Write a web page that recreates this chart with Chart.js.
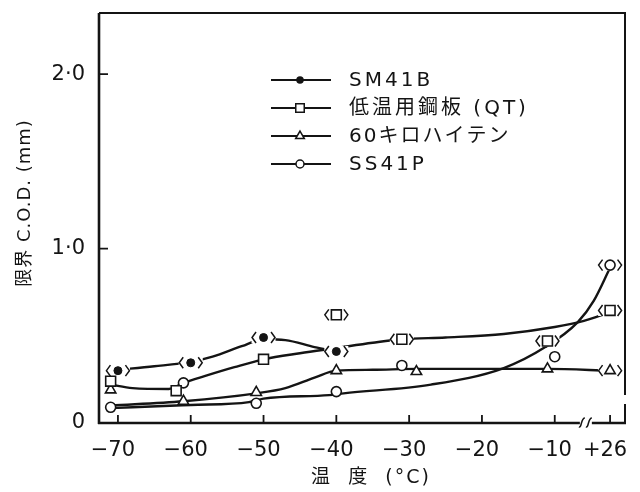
<!DOCTYPE html>
<html>
<head>
<meta charset="utf-8">
<script src="https://cdn.jsdelivr.net/npm/chart.js@4.4.1/dist/chart.umd.min.js"></script>
<style>
  html, body { margin: 0; padding: 0; background: #fff; }
  canvas { display: block; }
</style>
</head>
<body>
<canvas id="cod" width="640" height="492"></canvas>
<script>
// ---- axis definitions -------------------------------------------------
// The temperature axis is broken just right of -10 °C; +26 °C sits past the break.
const TICK_TEMPS  = [-70, -60, -50, -40, -30, -20, -10, 26];
const TICK_LABELS = ['−70', '−60', '−50', '−40', '−30', '−20', '−10', '+26'];
const Y_TICKS       = [0, 1, 2];
const Y_TICK_LABELS = ['0', '1·0', '2·0'];

const SERIES_NAMES = ['SM41B', '低温用鋼板 (QT)', '60キロハイテン', 'SS41P'];

// ---- measured critical COD (mm) ---------------------------------------
const SM41B_T       = [-70, -60, -50, -40];
const SM41B_COD     = [0.30, 0.345, 0.49, 0.41];
const SM41B_BRACKET = [true, true, true, true];

const QT_T       = [-71, -62, -50, -40, -31, -11, 26];
const QT_COD     = [0.24, 0.185, 0.365, 0.62, 0.48, 0.47, 0.645];
const QT_BRACKET = [false, false, false, true, true, true, true];

const HT60_T       = [-71, -61, -51, -40, -29, -11, 26];
const HT60_COD     = [0.19, 0.125, 0.175, 0.30, 0.295, 0.31, 0.30];
const HT60_BRACKET = [false, false, false, false, false, false, true];

const SS41P_T       = [-71, -61, -51, -40, -31, -10, 26];
const SS41P_COD     = [0.09, 0.23, 0.113, 0.18, 0.33, 0.38, 0.905];
const SS41P_BRACKET = [false, false, false, false, false, false, true];

// ---- faired trend curves ----------------------------------------------
const SM41B_CURVE_T   = [-70, -65, -60, -57, -53, -50, -47, -43, -40];
const SM41B_CURVE_COD = [0.305, 0.325, 0.35, 0.38, 0.44, 0.48, 0.475, 0.435, 0.41];

const QT_CURVE_T   = [-71, -68, -63, -61, -58, -54, -50, -45, -40, -35, -31, -25, -17, -10, -6, 26];
const QT_CURVE_COD = [0.22, 0.20, 0.195, 0.23, 0.27, 0.32, 0.365, 0.40, 0.43, 0.46, 0.48, 0.49, 0.51, 0.55, 0.585, 0.635];

const HT60_CURVE_T   = [-71, -61, -51, -47, -43, -40, -35, -29, -20, -11, 26];
const HT60_CURVE_COD = [0.10, 0.125, 0.17, 0.20, 0.26, 0.30, 0.305, 0.31, 0.31, 0.31, 0.30];

const SS41P_CURVE_T   = [-71, -62, -60, -52, -50, -41, -39, -27, -17, -11.3, -6.8, 6, 26];
const SS41P_CURVE_COD = [0.085, 0.10, 0.103, 0.12, 0.14, 0.16, 0.17, 0.22, 0.315, 0.435, 0.58, 0.70, 0.89];

// ---- broken-axis mapping ----------------------------------------------
const BREAK_T = -6;                 // real temperature where the axis breaks
const POST_BREAK_SCALE = 3.6 / 32;  // compression of the segment past the break
function axisX(t) {
  return t <= BREAK_T ? t : BREAK_T + (t - BREAK_T) * POST_BREAK_SCALE;
}
const pts = (ts, vs) => ts.map((t, i) => ({ x: axisX(t), y: vs[i] }));

const INK  = '#141414';
const FONT = '"DejaVu Sans", "Noto Sans CJK JP", sans-serif';

function curve(ts, vs) {
  return {
    type: 'line',
    data: pts(ts, vs),
    borderColor: INK,
    borderWidth: 2.4,
    pointRadius: 0,
    cubicInterpolationMode: 'monotone',
    fill: false,
    order: 2
  };
}
function markers(ts, vs, bracket, style, radius, filled) {
  return {
    type: 'scatter',
    data: pts(ts, vs),
    bracket: bracket,
    showLine: false,
    pointStyle: style,
    pointRadius: radius,
    pointHoverRadius: radius,
    pointBackgroundColor: filled ? INK : '#fff',
    pointBorderColor: INK,
    pointBorderWidth: filled ? 1 : 1.6,
    order: 1
  };
}

const MARKER_STYLES = [
  { style: 'circle',   radius: 4, filled: true },
  { style: 'rect',     radius: 7, filled: false },
  { style: 'triangle', radius: 6, filled: false },
  { style: 'circle',   radius: 5, filled: false }
];

const datasets = [
  curve(SM41B_CURVE_T, SM41B_CURVE_COD),
  curve(QT_CURVE_T, QT_CURVE_COD),
  curve(HT60_CURVE_T, HT60_CURVE_COD),
  curve(SS41P_CURVE_T, SS41P_CURVE_COD),
  markers(SM41B_T, SM41B_COD, SM41B_BRACKET, 'circle', 4, true),
  markers(QT_T, QT_COD, QT_BRACKET, 'rect', 7, false),
  markers(HT60_T, HT60_COD, HT60_BRACKET, 'triangle', 6, false),
  markers(SS41P_T, SS41P_COD, SS41P_BRACKET, 'circle', 5, false)
];

// ---- decorations: frame, inward ticks, axis break, brackets, legend, titles
const decor = {
  id: 'decor',
  beforeDraw(chart) { chart.$masked = false; },
  beforeDatasetDraw(chart, args) {
    const ds = chart.data.datasets[args.index];
    if (!ds.bracket || chart.$masked) return;
    chart.$masked = true;
    // clear the curves underneath bracketed markers
    const ctx = chart.ctx;
    ctx.save();
    ctx.fillStyle = '#fff';
    chart.data.datasets.forEach((d, i) => {
      if (!d.bracket) return;
      chart.getDatasetMeta(i).data.forEach((p, j) => {
        if (d.bracket[j]) ctx.fillRect(p.x - 12, p.y - 5.5, 24, 11);
      });
    });
    ctx.restore();
  },
  afterDatasetsDraw(chart) {
    const ctx = chart.ctx;
    const { left, right, top, bottom } = chart.chartArea;
    const xs = chart.scales.x, ys = chart.scales.y;
    ctx.save();
    ctx.strokeStyle = INK;
    ctx.fillStyle = INK;
    ctx.lineCap = 'butt';

    // angle brackets around flagged markers
    ctx.lineWidth = 1.5;
    chart.data.datasets.forEach((d, i) => {
      if (!d.bracket) return;
      chart.getDatasetMeta(i).data.forEach((p, j) => {
        if (!d.bracket[j]) return;
        ctx.beginPath();
        ctx.moveTo(p.x - 7.5, p.y - 5.5); ctx.lineTo(p.x - 11.5, p.y); ctx.lineTo(p.x - 7.5, p.y + 5.5);
        ctx.moveTo(p.x + 7.5, p.y - 5.5); ctx.lineTo(p.x + 11.5, p.y); ctx.lineTo(p.x + 7.5, p.y + 5.5);
        ctx.stroke();
      });
    });

    // frame
    const breakX = xs.getPixelForValue(axisX(BREAK_T)) - 4;
    ctx.lineWidth = 2.6;
    ctx.beginPath();
    ctx.moveTo(left, top); ctx.lineTo(left, bottom + 1);           // left axis
    ctx.moveTo(left - 1, bottom); ctx.lineTo(breakX, bottom);        // bottom, up to break
    ctx.moveTo(breakX + 12, bottom); ctx.lineTo(right + 1, bottom);  // bottom, past break
    ctx.stroke();
    ctx.lineWidth = 2;
    ctx.beginPath();
    ctx.moveTo(left, top); ctx.lineTo(right, top);
    ctx.moveTo(right, top - 1); ctx.lineTo(right, bottom - 28);
    ctx.moveTo(right, bottom - 19); ctx.lineTo(right, bottom + 1);
    ctx.stroke();

    // break symbol
    ctx.lineWidth = 1.5;
    [breakX + 2, breakX + 9].forEach(bx => {
      ctx.beginPath();
      ctx.moveTo(bx - 3, bottom + 4);
      ctx.bezierCurveTo(bx, bottom + 5, bx - 1, bottom - 5, bx + 3, bottom - 5);
      ctx.stroke();
    });

    // inward tick marks
    ctx.lineWidth = 1.8;
    ctx.beginPath();
    xs.ticks.forEach(t => {
      const px = xs.getPixelForValue(t.value);
      ctx.moveTo(px, bottom); ctx.lineTo(px, bottom - 8);
    });
    ys.ticks.forEach(t => {
      if (t.value === 0) return;
      const py = ys.getPixelForValue(t.value);
      ctx.moveTo(left, py); ctx.lineTo(left + 9, py);
    });
    ctx.stroke();

    // legend
    const lx0 = 271, lx1 = 331, lm = 300, tx = 349;
    ctx.font = '20px ' + FONT;
    ctx.textBaseline = 'middle';
    ctx.textAlign = 'left';
    SERIES_NAMES.forEach((name, i) => {
      const y = 80 + i * 28;
      ctx.lineWidth = 2.2;
      ctx.beginPath(); ctx.moveTo(lx0, y); ctx.lineTo(lx1, y); ctx.stroke();
      const ms = MARKER_STYLES[i];
      ctx.fillStyle = ms.filled ? INK : '#fff';
      ctx.lineWidth = 1.5;
      Chart.helpers.drawPoint(ctx, {
        pointStyle: ms.style, radius: ms.radius - 1, rotation: 0, borderWidth: 1.5
      }, lm, y);
      ctx.fillStyle = INK;
      ctx.letterSpacing = i === 1 ? '3px' : (i === 2 ? '2px' : '3px');
      ctx.fillText(name, tx, y + 1);
    });
    ctx.letterSpacing = '0px';

    // axis titles
    ctx.font = '18px ' + FONT;
    ctx.textAlign = 'center';
    ctx.letterSpacing = '1px';
    ctx.save();
    ctx.translate(25, 203);
    ctx.rotate(-Math.PI / 2);
    ctx.fillText('限界 C.O.D. (mm)', 0, 0);
    ctx.restore();
    ctx.letterSpacing = '2px';
    ctx.font = '19px ' + FONT;
    ctx.fillText('温  度  (°C)', 371, 478);
    ctx.restore();
  }
};

new Chart(document.getElementById('cod'), {
  data: { datasets },
  options: {
    responsive: false,
    animation: false,
    events: [],
    layout: { padding: { top: 13, right: 15, left: 0, bottom: 0 } },
    plugins: { legend: { display: false }, tooltip: { enabled: false } },
    scales: {
      x: {
        type: 'linear',
        min: -72.6,
        max: -0.35,
        afterBuildTicks(scale) { scale.ticks = TICK_TEMPS.map(t => ({ value: axisX(t) })); },
        afterFit(scale) { scale.height = 69; scale.paddingLeft = 0; scale.paddingRight = 0; },
        grid: { display: false, drawTicks: false },
        border: { display: false },
        ticks: {
          autoSkip: false, maxRotation: 0, padding: 15, labelOffset: -5,
          color: INK, font: { family: FONT, size: 21 },
          callback: (v, i) => TICK_LABELS[i]
        }
      },
      y: {
        type: 'linear',
        min: 0,
        max: 2.35,
        afterBuildTicks(scale) { scale.ticks = Y_TICKS.map(v => ({ value: v })); },
        afterFit(scale) { scale.width = 99; scale.paddingTop = 0; scale.paddingBottom = 0; },
        grid: { display: false, drawTicks: false },
        border: { display: false },
        ticks: {
          padding: 14, color: INK, font: { family: FONT, size: 21 },
          callback: (v, i) => Y_TICK_LABELS[i]
        }
      }
    }
  },
  plugins: [decor]
});
</script>
</body>
</html>
